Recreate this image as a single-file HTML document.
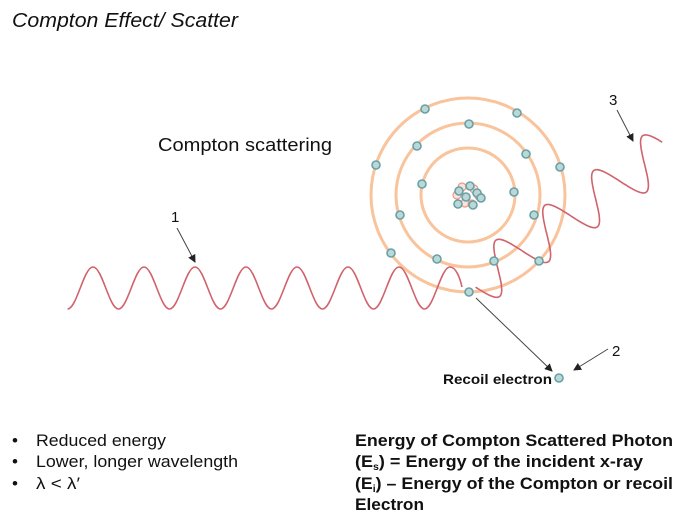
<!DOCTYPE html>
<html><head><meta charset="utf-8"><style>
html,body{margin:0;padding:0;background:#fff;}
svg{display:block;}
text{font-family:"Liberation Sans",sans-serif;}
</style></head><body>
<svg width="700" height="526" viewBox="0 0 700 526" xmlns="http://www.w3.org/2000/svg">
<defs>
<marker id="ah" markerWidth="8" markerHeight="8" refX="7" refY="4" orient="auto" markerUnits="userSpaceOnUse">
<path d="M0,0 L8,4 L0,8 z" fill="#222"/>
</marker>
<g id="e"><circle r="4" fill="#b9d8d8" stroke="#6aa0a4" stroke-width="1.6"/></g>
</defs>
<text x="12" y="27" font-size="20" font-style="italic" fill="#111" textLength="226" lengthAdjust="spacingAndGlyphs">Compton Effect/ Scatter</text>
<text x="158" y="151" font-size="18" fill="#111" textLength="174" lengthAdjust="spacingAndGlyphs">Compton scattering</text>

<g fill="none" stroke="#f9c39c" stroke-width="3">
<circle cx="468" cy="195" r="47"/>
<circle cx="468" cy="195" r="72"/>
<circle cx="468" cy="195" r="97"/>
</g>
<g fill="#fbe3dc" stroke="#e89a8a" stroke-width="1.2">
<circle cx="462" cy="187" r="4"/><circle cx="474" cy="189" r="4"/><circle cx="479" cy="196" r="4"/>
<circle cx="465" cy="203" r="4"/><circle cx="457" cy="195" r="4"/><circle cx="472" cy="204" r="4"/>
</g>
<use href="#e" x="459" y="191"/><use href="#e" x="470" y="186"/><use href="#e" x="466" y="197"/>
<use href="#e" x="477" y="193"/><use href="#e" x="458" y="204"/><use href="#e" x="473" y="205"/><use href="#e" x="481" y="198"/>

<path id="inc" fill="none" stroke="#d0636b" stroke-width="1.6"/>
<path id="sc" fill="none" stroke="#d0636b" stroke-width="1.6"/>

<use href="#e" x="425" y="109"/><use href="#e" x="517" y="113"/><use href="#e" x="469" y="124"/>
<use href="#e" x="417" y="146"/><use href="#e" x="526" y="154"/><use href="#e" x="376" y="165"/>
<use href="#e" x="560" y="167"/><use href="#e" x="422" y="184"/><use href="#e" x="514" y="192"/>
<use href="#e" x="400" y="215"/><use href="#e" x="534" y="215"/><use href="#e" x="391" y="253"/>
<use href="#e" x="437" y="259"/><use href="#e" x="494" y="261"/><use href="#e" x="539" y="261"/>
<use href="#e" x="469" y="292"/><use href="#e" x="559" y="378"/>

<g stroke="#444" stroke-width="1" fill="none" marker-end="url(#ah)">
<line x1="177" y1="228" x2="195" y2="262"/>
<line x1="617" y1="110" x2="633" y2="141"/>
<line x1="608" y1="349" x2="574" y2="370"/>
<line x1="476" y1="298" x2="552" y2="371"/>
</g>
<text x="171" y="222" font-size="15" fill="#111">1</text>
<text x="612" y="356" font-size="15" fill="#111">2</text>
<text x="609" y="105" font-size="15" fill="#111">3</text>
<text x="443" y="384" font-size="14" font-weight="bold" fill="#111" textLength="109" lengthAdjust="spacingAndGlyphs">Recoil electron</text>

<g font-size="17" fill="#111">
<text x="12" y="446">•</text><text x="12" y="467">•</text><text x="12" y="489">•</text>
<text x="36" y="446" textLength="130" lengthAdjust="spacingAndGlyphs">Reduced energy</text>
<text x="36" y="467" textLength="202" lengthAdjust="spacingAndGlyphs">Lower, longer wavelength</text>
<text x="36" y="489" textLength="44" lengthAdjust="spacingAndGlyphs">λ &lt; λ′</text>
</g>
<g font-size="17" font-weight="bold" fill="#111">
<text x="355" y="446" textLength="318" lengthAdjust="spacingAndGlyphs">Energy of Compton Scattered Photon</text>
<text x="355" y="467" textLength="288" lengthAdjust="spacingAndGlyphs">(E<tspan font-size="10" dy="3">s</tspan><tspan dy="-3">) = Energy of the incident x-ray</tspan></text>
<text x="355" y="489" textLength="318" lengthAdjust="spacingAndGlyphs">(E<tspan font-size="10" dy="3">i</tspan><tspan dy="-3">) – Energy of the Compton or recoil</tspan></text>
<text x="355" y="510" textLength="69" lengthAdjust="spacingAndGlyphs">Electron</text>
</g>
<script>
(function(){
var x=67.5,top=267,bot=309,h=25.5,up=true,s="M67.5,309";
for(var i=0;i<15;i++){
 var y0=up?bot:top,y1=up?top:bot;
 s+=" C"+(x+9.3)+","+y0+" "+(x+16.2)+","+y1+" "+(x+h)+","+y1;
 x+=h;up=!up;
}
s+=" C456,267 460,278 462,287";
document.getElementById("inc").setAttribute("d",s);
var ux=0.815,uy=-0.58,nx=0.58,ny=0.815,cx=510,cy=259.6,A=24,L=60,p="";
for(var t=-44;t<=192;t+=1){
 var a=-A*Math.cos(2*Math.PI*t/L);
 var px=cx+ux*t+nx*a, py=cy+uy*t+ny*a;
 p+=(p?" L":"M")+px.toFixed(1)+","+py.toFixed(1);
}
document.getElementById("sc").setAttribute("d",p);
})();
</script>
</svg>
</body></html>
